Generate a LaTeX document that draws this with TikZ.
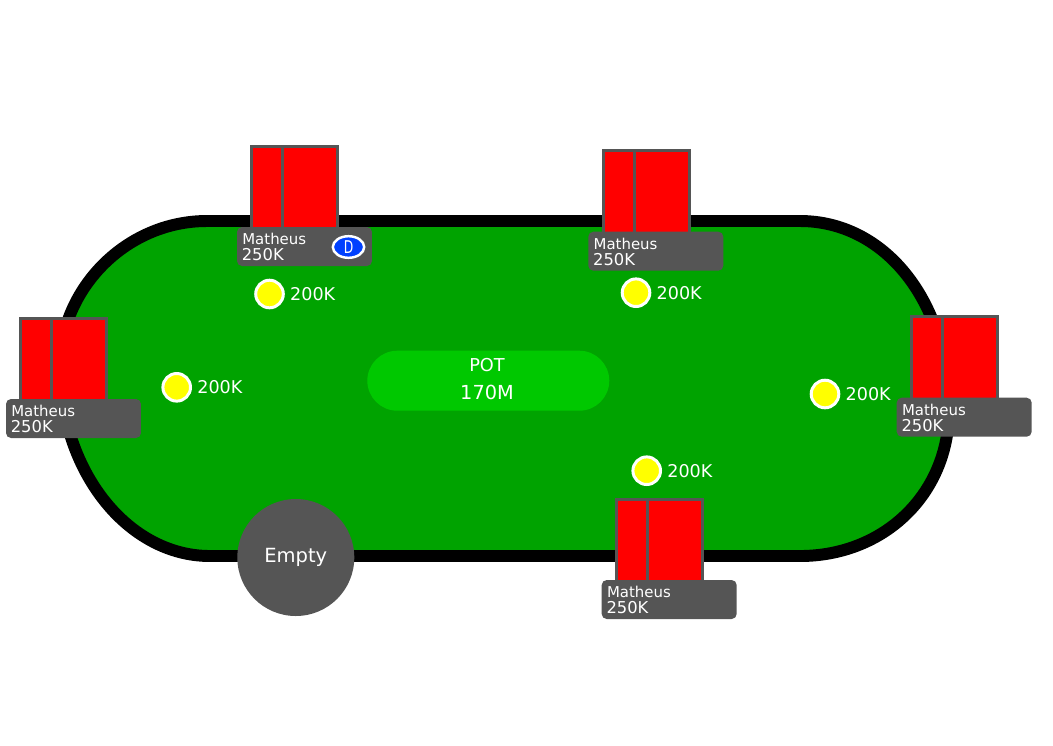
\documentclass[tikz,border=0pt]{standalone}
\usepackage{fontspec}
\setmainfont{DejaVu Sans}
\usetikzlibrary{positioning,shapes.geometric}
\definecolor{feltColor}{HTML}{00A300}
\definecolor{potColor}{HTML}{00C800}
\definecolor{seatColor}{HTML}{555555}
\definecolor{cardColor}{HTML}{FF0000}
\definecolor{chipColor}{HTML}{FFFF00}
\definecolor{dealerColor}{HTML}{0040FF}
\tikzset{
	seatcard/.style={draw=seatColor, fill=cardColor, line width=1.7pt, minimum width=1.1cm,
		minimum height=1.82cm, inner sep=0, outer sep=0, anchor=north west},
	seatplate/.style={fill=seatColor, rounded corners=0.1cm, minimum width=2.7cm,
		minimum height=0.78cm, inner sep=0, outer sep=0, anchor=north west},
	playername/.style={text=white, inner sep=0, anchor=base west, font=\fontsize{8.5}{10}\selectfont},
	stacksize/.style={text=white, inner sep=0, anchor=base west, font=\fontsize{9.3}{11}\selectfont},
	betchip/.style={circle, draw=white, fill=chipColor, line width=1.7pt, minimum size=0.552cm,
		inner sep=0, outer sep=0},
	betamount/.style={text=white, inner sep=0, font=\fontsize{10}{12}\selectfont},
	dealer/.style={ellipse, draw=white, fill=dealerColor, line width=1.4pt, minimum width=0.628cm,
		minimum height=0.432cm, inner sep=0, text=white, font=\fontsize{10}{12}\selectfont},
	potbox/.style={fill=potColor, rounded corners=0.6cm, minimum width=4.84cm, minimum height=1.2cm, inner sep=0},
	potlabel/.style={text=white, inner sep=0, anchor=base},
	emptyseat/.style={circle, fill=seatColor, minimum size=2.34cm, inner sep=0, text=white,
		font=\fontsize{11.1}{13}\selectfont}
}
% seat: name, x and y of the plate's top left corner
\newcommand{\seat}[3]{%
	\node[seatcard] (#1-back) at (#2+14.8, #3-81) {};
	\node[seatcard] (#1-front) at (#2+45.8, #3-81) {};
	\node[seatplate] (#1) at (#2, #3) {};
	\node[playername] (#1-name) at (#2+5, #3+17.5) {Matheus};
	\node[stacksize] (#1-stack) at (#2+4.5, #3+33.5) {250K};
}

\begin{document}
\begin{tikzpicture}[x=0.02cm, y=-0.02cm]
	\useasboundingbox (0,0) rectangle (1053,745);
	% table
	\draw[line width=6.8pt, fill=feltColor] (207,221) .. controls (125,221) and (60,290) .. (60,366)
		.. controls (60,470) and (127,556) .. (210,556) -- (800,556)
		.. controls (884,556) and (949,494) .. (949,410)
		.. controls (949,300) and (884,221) .. (800,221) -- cycle;
	% pot
	\node[potbox] (pot) at (488.3,380.7) {};
	\node[potlabel, font=\fontsize{10.1}{12}\selectfont] (potname) at (487,371) {POT};
	\node[potlabel, font=\fontsize{11}{13}\selectfont] (potsum) at (487,399.3) {170M};
	% bets
	\node[betchip] (chipTL) at (269.5,294) {};
	\node[betamount, right=0.13cm of chipTL] (betTL) {200K};
	\node[betchip] (chipTM) at (636,292.7) {};
	\node[betamount, right=0.13cm of chipTM] (betTM) {200K};
	\node[betchip] (chipL) at (176.7,387.3) {};
	\node[betamount, right=0.13cm of chipL] (betL) {200K};
	\node[betchip] (chipR) at (825,394) {};
	\node[betamount, right=0.13cm of chipR] (betR) {200K};
	\node[betchip] (chipB) at (646.7,470.7) {};
	\node[betamount, right=0.13cm of chipB] (betB) {200K};
	% seats
	\seat{seatTL}{237}{227}
	\seat{seatTM}{588.3}{231.7}
	\seat{seatL}{6}{399}
	\seat{seatR}{896.7}{397.7}
	\seat{seatB}{601.7}{580}
	\node[dealer] (button) at (348.5,247) {\scalebox{0.7}[1]{D}};
	\node[emptyseat] (empty) at (295.8,557.5) {Empty};
\end{tikzpicture}
\end{document}
